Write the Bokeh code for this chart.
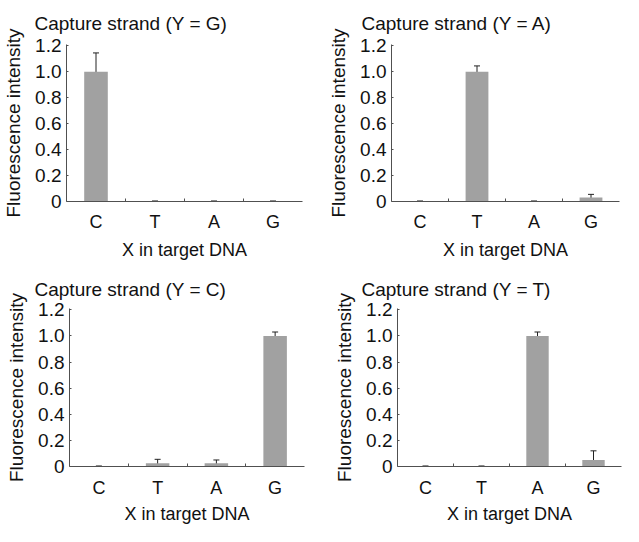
from bokeh.plotting import figure
from bokeh.layouts import column, row
from bokeh.models import Range1d, FixedTicker, ColumnDataSource, Whisker, TeeHead
from bokeh.embed import file_html
from bokeh.resources import INLINE

# ---- data ----
categories = ["C", "T", "A", "G"]
titles = ["Capture strand (Y = G)", "Capture strand (Y = A)",
          "Capture strand (Y = C)", "Capture strand (Y = T)"]
vals_G = [1.0, 0.0, 0.0, 0.0]
errs_G = [0.145, 0.004, 0.004, 0.004]
vals_A = [0.0, 1.0, 0.0, 0.03]
errs_A = [0.004, 0.045, 0.004, 0.025]
vals_C = [0.0, 0.025, 0.025, 1.0]
errs_C = [0.004, 0.03, 0.025, 0.03]
vals_T = [0.0, 0.0, 1.0, 0.05]
errs_T = [0.004, 0.004, 0.03, 0.07]
y_ticks = [0, 0.2, 0.4, 0.6, 0.8, 1.0, 1.2]
y_tick_labels = ["0", "0.2", "0.4", "0.6", "0.8", "1.0", "1.2"]
x_label = "X in target DNA"
y_label = "Fluorescence intensity"

FONT = "Liberation Sans"
BAR = "#a1a1a1"
AX = "#505050"
TXT = "#111111"


def panel(title, vals, errs, w, h, left, right, top, bottom, t_off, t_standoff,
          xl_standoff, tick_standoff):
    centers = [i + 0.5 for i in range(len(categories))]
    p = figure(width=w, height=h, output_backend="svg", toolbar_location=None,
               x_range=Range1d(0, len(categories)), y_range=Range1d(0, 1.21),
               min_border_left=left, min_border_right=right,
               min_border_top=top, min_border_bottom=bottom,
               title=title)
    p.title.text_font = FONT
    p.title.text_font_size = "19px"
    p.title.text_font_style = "normal"
    p.title.text_color = TXT
    p.title.text_line_height = 0.8
    p.title.offset = t_off
    p.title.standoff = t_standoff
    p.outline_line_color = None
    p.grid.visible = False
    src = ColumnDataSource(dict(
        x=centers, top=vals,
        upper=[v + e for v, e in zip(vals, errs)],
        lower=[v - e for v, e in zip(vals, errs)]))
    p.vbar(x="x", top="top", width=0.4, source=src, fill_color=BAR, line_color=None)
    wh = Whisker(base="x", upper="upper", lower="lower", source=src,
                 line_color="#222222", line_width=1,
                 upper_head=TeeHead(size=6, line_color="#222222", line_width=1),
                 lower_head=TeeHead(size=6, line_color="#222222", line_width=1))
    p.add_layout(wh)

    xa = p.xaxis[0]
    xa.ticker = FixedTicker(ticks=centers, minor_ticks=[1, 2, 3])
    xa.major_label_overrides = {c: lab for c, lab in zip(centers, categories)}
    xa.major_tick_in = 0
    xa.major_tick_out = 0
    xa.minor_tick_in = 3
    xa.minor_tick_out = 0
    xa.minor_tick_line_color = AX
    xa.axis_line_color = AX
    xa.axis_label = x_label
    xa.axis_label_text_font = FONT
    xa.axis_label_text_font_size = "18px"
    xa.axis_label_text_font_style = "normal"
    xa.axis_label_text_color = TXT
    xa.axis_label_text_line_height = 0.65
    xa.axis_label_standoff = xl_standoff
    xa.major_label_text_font = FONT
    xa.major_label_text_font_size = "18px"
    xa.major_label_text_color = TXT
    xa.major_label_text_line_height = 0.65
    xa.major_label_standoff = tick_standoff

    ya = p.yaxis[0]
    ya.ticker = FixedTicker(ticks=y_ticks)
    ya.major_label_overrides = {t: lab for t, lab in zip(y_ticks, y_tick_labels)}
    ya.major_tick_in = 2
    ya.major_tick_out = 0
    ya.minor_tick_in = 0
    ya.minor_tick_out = 0
    ya.major_tick_line_color = AX
    ya.axis_line_color = AX
    ya.axis_label = y_label
    ya.axis_label_text_font = FONT
    ya.axis_label_text_font_size = "19px"
    ya.axis_label_text_font_style = "normal"
    ya.axis_label_text_color = TXT
    ya.axis_label_standoff = 8
    ya.major_label_text_font = FONT
    ya.major_label_text_font_size = "19px"
    ya.major_label_text_color = TXT
    ya.major_label_standoff = 5
    return p


p1 = panel(titles[0], vals_G, errs_G, 312, 262, 64, 10, 39, 58, -32, 21, 5, 10)
p2 = panel(titles[1], vals_A, errs_A, 311, 262, 79, 4, 43, 55, -30, 21, 5, 10)
p3 = panel(titles[2], vals_C, errs_C, 312, 264, 69, 8, 46, 52, -35, 18, 3, 11)
p4 = panel(titles[3], vals_T, errs_T, 311, 264, 85, 2, 45, 52, -36, 18, 3, 11)

layout = column(row(p1, p2, spacing=0), row(p3, p4, spacing=0), spacing=0)
open("out.html", "w").write(file_html(layout, INLINE))
